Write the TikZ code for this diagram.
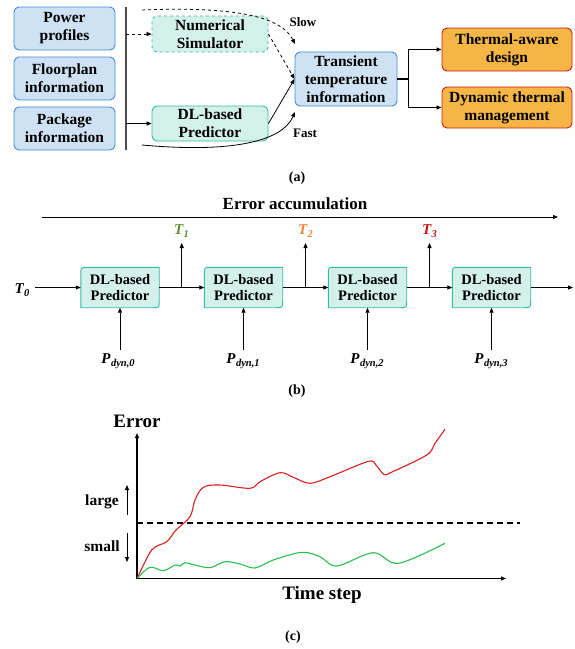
\documentclass[tikz,border=0pt]{standalone}
\usepackage{fontspec}
\setmainfont{Liberation Serif}
\usetikzlibrary{arrows.meta,backgrounds,calc}
\definecolor{bfill}{HTML}{CFE2F3}
\definecolor{bdraw}{HTML}{3D8BD9}
\definecolor{tfill}{HTML}{D3F0EA}
\definecolor{tdraw}{HTML}{33BBA3}
\definecolor{ofill}{HTML}{F6B646}
\definecolor{odraw}{HTML}{D01818}
\definecolor{tgreen}{HTML}{5B8C2E}
\definecolor{torange}{HTML}{F0843A}
\definecolor{tred}{HTML}{C81010}
\definecolor{cred}{HTML}{D81E1E}
\definecolor{cgreen}{HTML}{2BBF4F}
\newcommand{\vsym}[2]{{\fontsize{15}{17}\selectfont\bfseries\itshape #1}\kern0.5pt\raisebox{-3.5pt}{\fontsize{10.5}{12}\selectfont\bfseries\itshape #2}}
\begin{document}
\begin{tikzpicture}[x=1pt,y=-1pt,
  lab/.style={font=\fontsize{15.5}{18}\selectfont\bfseries, align=center, inner sep=0pt},
  small/.style={font=\fontsize{13}{15}\selectfont\bfseries, inner sep=0pt},
  bluebox/.style={lab, draw=bdraw, fill=bfill, line width=0.9pt, rounded corners=5pt},
  tealbox/.style={lab, draw=tdraw, fill=tfill, line width=0.9pt, rounded corners=5pt},
  orangebox/.style={lab, draw=odraw, fill=ofill, line width=0.9pt, rounded corners=5pt},
  dlb/.style={font=\fontsize{14.5}{16}\selectfont\bfseries, align=center, inner sep=0pt, minimum width=78pt, minimum height=40pt},
  dlshape/.style={draw=tdraw, fill=tfill, line width=0.9pt},
  arr/.style={-{Stealth[length=5pt,width=4pt,inset=0pt]}, line width=0.8pt},
  mathlab/.style={inner sep=1pt}
]
\useasboundingbox (0,0) rectangle (574,649);

% ---------------- panel (a)
\node[bluebox, minimum width=101pt, minimum height=43pt] (pp) at (64.5,28.5) {Power\\profiles};
\node[bluebox, minimum width=101pt, minimum height=43pt] (fp) at (64.5,78.5) {Floorplan\\information};
\node[bluebox, minimum width=101pt, minimum height=43pt] (pk) at (64.5,128.5) {Package\\information};
\draw[line width=1.2pt, black!70] (126,7) coordinate (vt) -- (126,150) coordinate (vb);
\coordinate (vnum) at (126,34);
\coordinate (vdl) at (126,123.5);
\coordinate (topstart) at (142,10);
\coordinate (botstart) at (142,145);

\node[tealbox, dashed, minimum width=116pt, minimum height=36pt] (num) at (210,34) {Numerical\\Simulator};
\node[tealbox, minimum width=116pt, minimum height=35pt] (dl) at (210,123.5) {DL-based\\Predictor};
\node[bluebox, minimum width=102pt, minimum height=54pt] (tr) at (346,79) {Transient\\temperature\\information};
\node[orangebox, minimum width=130pt, minimum height=43pt] (ta) at (507,49.5) {Thermal-aware\\design};
\node[orangebox, minimum width=130pt, minimum height=41pt] (dt) at (507,107.5) {Dynamic thermal\\management};

\draw[arr, dashed] (vnum) -- (num.west);
\draw[arr] (vdl) -- (dl.west);
\coordinate (slowend) at (295,44);
\coordinate (fastend) at (295,112);
\draw[arr, dashed] (topstart) .. controls (240,6) and (282,18) .. (slowend);
\draw[arr, dashed] (num.east) -- (tr.west);
\draw[arr] (dl.east) -- (tr.west);
\draw[arr] (botstart) .. controls (230,153) and (282,142) .. (fastend);
\node[small] (slow) at (303,22) {Slow};
\node[small] (fast) at (305,133) {Fast};

\draw[line width=2pt] (tr.east) -- ++(11,0) coordinate (jn);
\draw[arr, line width=1.3pt] (jn) |- (ta.west);
\draw[arr, line width=1.3pt] (jn) |- (dt.west);
\draw[line width=1.6pt] ([yshift=0.8pt]jn |- ta.west) -- ([yshift=-0.8pt]jn |- dt.west);

\node[small, font=\fontsize{14}{16}\selectfont\bfseries] (cap-a) at (297,178) {(a)};

% ---------------- panel (b)
\node[font=\fontsize{17}{19}\selectfont\bfseries, inner sep=0pt] (ea) at (295,204) {Error accumulation};
\coordinate (eas) at (42,217);
\coordinate (eae) at (558,217);
\draw[arr] (eas) -- (eae);

\node[dlb] (p1) at (120,287.5) {DL-based\\Predictor};
\node[dlb] (p2) at (243.5,287.5) {DL-based\\Predictor};
\node[dlb] (p3) at (367.5,287.5) {DL-based\\Predictor};
\node[dlb] (p4) at (491.5,287.5) {DL-based\\Predictor};
\begin{scope}[on background layer]
\foreach \n in {p1,p2,p3,p4}{
  \path[dlshape] (\n.south west) -- ([yshift=-7pt]\n.north west)
    .. controls (\n.north west) .. ([xshift=7pt]\n.north west)
    -- (\n.north east) -- ([yshift=7pt]\n.south east)
    .. controls (\n.south east) .. ([xshift=-7pt]\n.south east) -- cycle;
}
\end{scope}

\node[mathlab] (t0) at (22,290) {\vsym{T}{0}};
\draw[arr] (35,287.5) -- (p1.west);
\coordinate (j1) at ($(p1.east)!0.5!(p2.west)$);
\coordinate (j2) at ($(p2.east)!0.5!(p3.west)$);
\coordinate (j3) at ($(p3.east)!0.5!(p4.west)$);
\coordinate (endb) at (573,287.5);
\draw[arr] (p1.east) -- (p2.west);
\draw[arr] (p2.east) -- (p3.west);
\draw[arr] (p3.east) -- (p4.west);
\draw[arr] (p4.east) -- (endb);
\node[mathlab, text=tgreen] (t1) at (181.5,231) {\vsym{T}{1}};
\node[mathlab, text=torange] (t2) at (305.5,231) {\vsym{T}{2}};
\node[mathlab, text=tred] (t3) at (429.5,231) {\vsym{T}{3}};
\draw[arr] (j1) -- (j1 |- 0,243);
\draw[arr] (j2) -- (j2 |- 0,243);
\draw[arr] (j3) -- (j3 |- 0,243);

\node[mathlab] (q1) at (118,361) {\vsym{P}{dyn,0}};
\node[mathlab] (q2) at (243,361) {\vsym{P}{dyn,1}};
\node[mathlab] (q3) at (367,361) {\vsym{P}{dyn,2}};
\node[mathlab] (q4) at (491,361) {\vsym{P}{dyn,3}};
\foreach \q/\p in {q1/p1,q2/p2,q3/p3,q4/p4}{
  \draw[arr] (\p.south |- 0,350) -- (\p.south);
}
\node[small, font=\fontsize{14}{16}\selectfont\bfseries] (cap-b) at (297,391) {(b)};

% ---------------- panel (c)
\coordinate (org) at (137,578.5);
\draw[arr, line width=1.2pt] (org) -- (137,433);
\draw[arr, line width=1.2pt] (org) -- (506,578.5);
\node[font=\fontsize{19}{21}\selectfont\bfseries, inner sep=0pt] (err) at (137,421) {Error};
\node[font=\fontsize{19}{21}\selectfont\bfseries, inner sep=0pt] (ts) at (322,595) {Time step};
\draw[dashed, line width=1.1pt, dash pattern=on 6pt off 4pt] (137,523) -- (520,523);
\node[lab] (lg) at (102,502) {large};
\node[lab] (sm) at (102,546) {small};
\draw[arr] (127,515) -- (127,485);
\draw[arr] (127,533) -- (127,562);

\draw[cred, line width=1.1pt] plot[smooth, tension=0.55] coordinates {
(137.3,578.3) (151.7,550) (166.7,541.7) (176,530) (190,516.7) (195,500) (203.3,487.3)
(220,485) (250,488.3) (260,481.7) (280,472.7) (293.3,477.3) (310,483.3) (330,476.7)
(368,461.5) (376,465) (384,474.5) (392,472) (426.7,455) (435,443.3) (445,429.3)};
\draw[cgreen, line width=1.1pt] plot[smooth, tension=0.55] coordinates {
(137.3,578.3) (150,567.3) (163.3,570.7) (175,565) (180,566) (185,562.7) (195,565)
(210,567.7) (225,561.7) (240,564) (255,568) (273.3,560) (301.7,552.3) (320,556.7)
(336.7,566) (373.3,552.7) (398.3,563.3) (445,543.3)};

\node[small, font=\fontsize{14}{16}\selectfont\bfseries] (cap-c) at (293,637) {(c)};
\end{tikzpicture}
\end{document}
